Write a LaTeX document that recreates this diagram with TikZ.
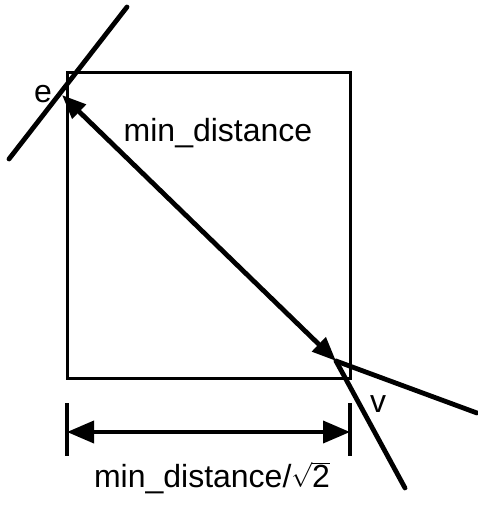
\documentclass[tikz,border=0pt]{standalone}
\usepackage{fontspec}
\setmainfont{Liberation Sans}
\usetikzlibrary{arrows.meta}

\begin{document}
\begin{tikzpicture}[x=1pt, y=-1pt, font=\fontsize{32}{36}\selectfont,
  >={Triangle[length=24pt,width=19pt]},
  edge line/.style={line width=4.8pt, line cap=round},
  cellbox/.style={draw, line width=3pt, minimum width=283pt, minimum height=305pt, inner sep=0pt},
  dimline/.style={line width=3.8pt, >={Triangle[length=27pt,width=22pt]}},
  lbl/.style={anchor=base, inner sep=0pt}]
\useasboundingbox (0,0) rectangle (477,510);
% cell and the two end points of the diagonal
\node[cellbox] (cell) at (208.5,225.5) {};
\coordinate (e) at (62,95);
\coordinate (v) at (336,361);
\coordinate (e top) at (127,7);
\coordinate (e bot) at (9,159);
\coordinate (v right) at (477,413);
\coordinate (v bot) at (405,488);
\draw[edge line] (e top) -- (e bot);
\draw[edge line] (v) -- (v right);
\draw[edge line] (v) -- (v bot);
\draw[line width=4.8pt, <->] (e) -- (v);
\node[lbl] (e label) at (43,103) {e};
\node[lbl] (v label) at (378,412) {v};
\node[lbl] (diag) at (218,142) {min\_distance};
% dimension below the cell
\coordinate (dim left) at (67,432);
\coordinate (dim right) at (350,432);
\draw[line width=3.2pt] (dim left) ++(0,-29) -- ++(0,53);
\draw[line width=3.2pt] (dim right) ++(0,-29) -- ++(0,53);
\draw[dimline, <->] (dim left) -- (dim right);
\node[lbl] (side) at (212,487) {min\_distance/$\sqrt{\mbox{2}}$};
\end{tikzpicture}
\end{document}
